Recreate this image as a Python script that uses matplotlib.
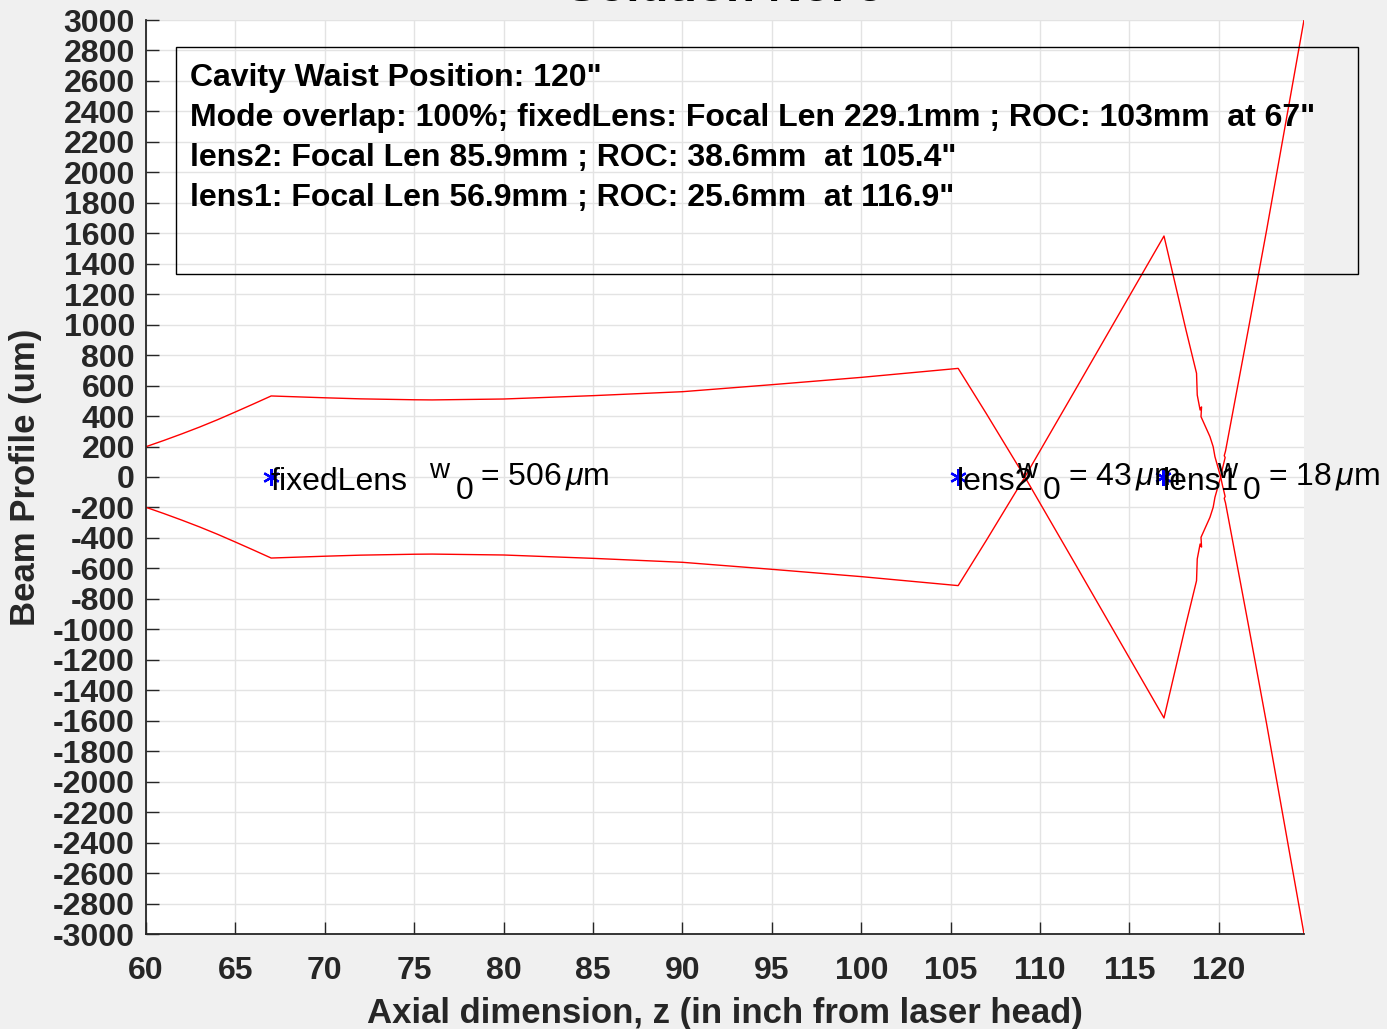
import matplotlib
matplotlib.use("Agg")
import matplotlib.pyplot as plt
import numpy as np
from matplotlib.patches import Rectangle

plt.rcParams['font.family'] = ['Liberation Sans', 'DejaVu Sans']
plt.rcParams['mathtext.fontset'] = 'custom'
plt.rcParams['mathtext.rm'] = 'Liberation Sans'
plt.rcParams['mathtext.it'] = 'Liberation Sans:italic'
plt.rcParams['axes.unicode_minus'] = False

# upper beam edge (um) along the axis (inch);
# the edge passes through zero at each focus, the lower edge is its mirror
z_in = [60, 61, 62, 63, 64, 65, 66, 67, 70, 72, 75, 76, 80, 85, 90, 95, 100, 105.42,
        107, 108.5, 109.15, 109.8, 112, 116.93,
        118.16, 118.75, 118.79, 118.95, 119.03, 119.0, 119.5, 119.68, 119.78, 120.1,
        120.2, 120.35, 120.3, 120.37, 121.64, 122.67, 124.76]
edge_um = [199, 240, 283, 328, 376, 427, 479, 532, 520, 513, 507, 506, 512, 534, 560, 606, 654, 713,
           415, 125, 0, -132, -578, -1582,
           -965, -681, -538, -440, -460, -396, -265, -199, -133, 0,
           55, 128, 140, 170, 965, 1621, 3000]

lens_names = ['fixedLens', 'lens2', 'lens1']
lens_z = [67, 105.4, 116.9]
waist_z = [75.85, 108.7, 119.9]
waist_um = [506, 43, 18]

info_lines = ['Cavity Waist Position: 120"',
              'Mode overlap: 100%; fixedLens: Focal Len 229.1mm ; ROC: 103mm  at 67"',
              'lens2: Focal Len 85.9mm ; ROC: 38.6mm  at 105.4"',
              'lens1: Focal Len 56.9mm ; ROC: 25.6mm  at 116.9"']

z = np.array(z_in)
e = np.array(edge_um)

fig = plt.figure(figsize=(13.87, 10.29), dpi=100, facecolor='#f0f0f0')
ax = fig.add_axes([146/1387, 95/1029, 1158/1387, 914/1029])

ax.plot(z, e, color='red', lw=1.0)
ax.plot(z, -e, color='red', lw=1.0)

def label(x, s, dx, dy, size=23):
    ax.annotate(s, xy=(x, 0), xytext=(dx, dy), textcoords='offset pixels',
                fontsize=size, va='baseline', ha='left')

for name, zl in zip(lens_names, lens_z):
    ax.plot(zl, 0, marker=(6, 2, 0), color='blue', ms=12, mew=1.6, ls='none')
    label(zl, name, -1, -13)
for zw, wv in zip(waist_z, waist_um):
    # MATLAB-style w_0: full size subscript, dropped
    label(zw, 'w', 0, -1, size=20)
    label(zw, '0', 26, -22)
    label(zw, r'= %d$\,\mu$m' % wv, 51, -7)

ax.set_xlim(60, 124.76)
ax.set_ylim(-3000, 3000)
ax.set_xticks(np.arange(60, 121, 5))
ax.set_yticks(np.arange(-3000, 3001, 200))
ax.grid(True, color='#e3e3e3', lw=1.0)
ax.set_axisbelow(True)
for s in ['top', 'right']:
    ax.spines[s].set_visible(False)
for s in ['left', 'bottom']:
    ax.spines[s].set_color('#262626')
    ax.spines[s].set_linewidth(1.3)
ax.tick_params(direction='in', length=9, width=1, colors='#262626', labelsize=23)
ax.tick_params(axis='x', pad=16)
ax.tick_params(axis='y', pad=8)
for lab in ax.get_xticklabels() + ax.get_yticklabels():
    lab.set_fontweight('bold')

ax.set_xlabel('Axial dimension, z (in inch from laser head)', fontsize=25,
              fontweight='bold', color='#262626', labelpad=7.5)
ax.set_ylabel('Beam Profile (um)', fontsize=25, fontweight='bold', color='#262626', labelpad=7.5)
ax.set_title('Solution No. 5', fontsize=34, fontweight='bold', pad=14)

# annotation box (transparent, partly outside axes)
fig.patches.append(Rectangle((176/1387, 1 - 274/1029), (1358-176)/1387, (274-47)/1029,
                             transform=fig.transFigure, fill=False, edgecolor='black', lw=1.0))
for i, line in enumerate(info_lines):
    fig.text(190/1387, 1 - (78 + 40*i)/1029, line, fontsize=23, fontweight='bold',
             va='center', ha='left')

fig.savefig('out.png', dpi=100, facecolor=fig.get_facecolor())
